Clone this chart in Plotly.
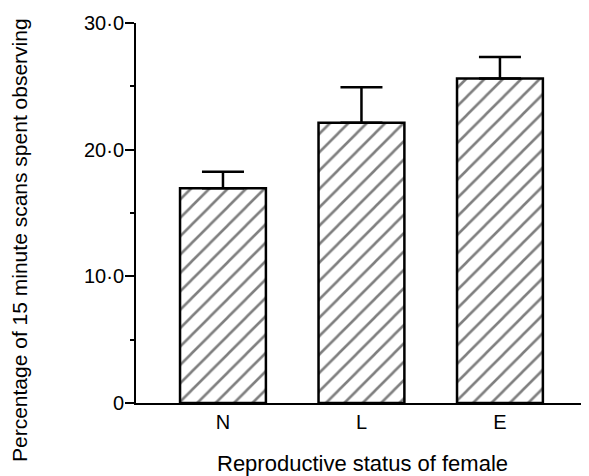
import plotly.graph_objects as go

categories = ["N", "L", "E"]
values = [16.95, 22.13, 25.62]
errors_up = [1.3, 2.8, 1.7]
ytick_vals = [0, 10, 20, 30]
ytick_text = ["0", "10·0", "20·0", "30·0"]
x_title = "Reproductive status of female"
y_title = "Percentage of 15 minute scans spent observing"

FONT = "Liberation Sans, Arial, Helvetica, sans-serif"

fig = go.Figure()
fig.add_trace(go.Bar(
    x=[0, 1, 2],
    y=values,
    width=0.62,
    marker=dict(
        color="white",
        line=dict(color="black", width=2.5),
        pattern=dict(shape="/", fgcolor="black", bgcolor="white", size=13, solidity=0.2),
    ),
    error_y=dict(type="data", symmetric=False, array=errors_up, arrayminus=[0, 0, 0],
                 color="black", thickness=2.5, width=21),
    showlegend=False,
))

# page body has an 8px margin, so the figure is drawn 8px smaller and offset
fig.update_layout(
    width=581, height=468,
    margin=dict(l=128, r=0, t=15, b=73),
    paper_bgcolor="white", plot_bgcolor="white",
    font=dict(family=FONT, color="black", size=20),
    xaxis=dict(
        range=[-0.628, 2.643],
        tickmode="array", tickvals=[0, 1, 2], ticktext=categories,
        showline=True, linecolor="black", linewidth=2,
        ticks="", showgrid=False, zeroline=False,
        tickfont=dict(size=20),
    ),
    yaxis=dict(
        range=[0, 30],
        tickmode="array", tickvals=ytick_vals, ticktext=ytick_text,
        showline=True, linecolor="black", linewidth=2,
        ticks="outside", ticklen=9, tickwidth=2, tickcolor="black",
        ticklabelstandoff=-3,
        minor=dict(tickmode="array", tickvals=[5, 15, 25], ticks="outside", ticklen=4, tickwidth=2, tickcolor="black"),
        showgrid=False, zeroline=False,
        tickfont=dict(size=20),
    ),
    annotations=[
        dict(text=x_title, xref="paper", yref="paper", x=0.5, y=0, xanchor="center", yanchor="middle",
             xshift=(362 - 136) - 0.5 * 453, yshift=-(463 - 403), showarrow=False, font=dict(size=22)),
        dict(text=y_title, xref="paper", yref="paper", x=0, y=(403 - 240) / 380, xanchor="center", yanchor="middle",
             xshift=19 - 136, textangle=-90, showarrow=False, font=dict(size=21)),
    ],
)

fig.write_html("out.html")
